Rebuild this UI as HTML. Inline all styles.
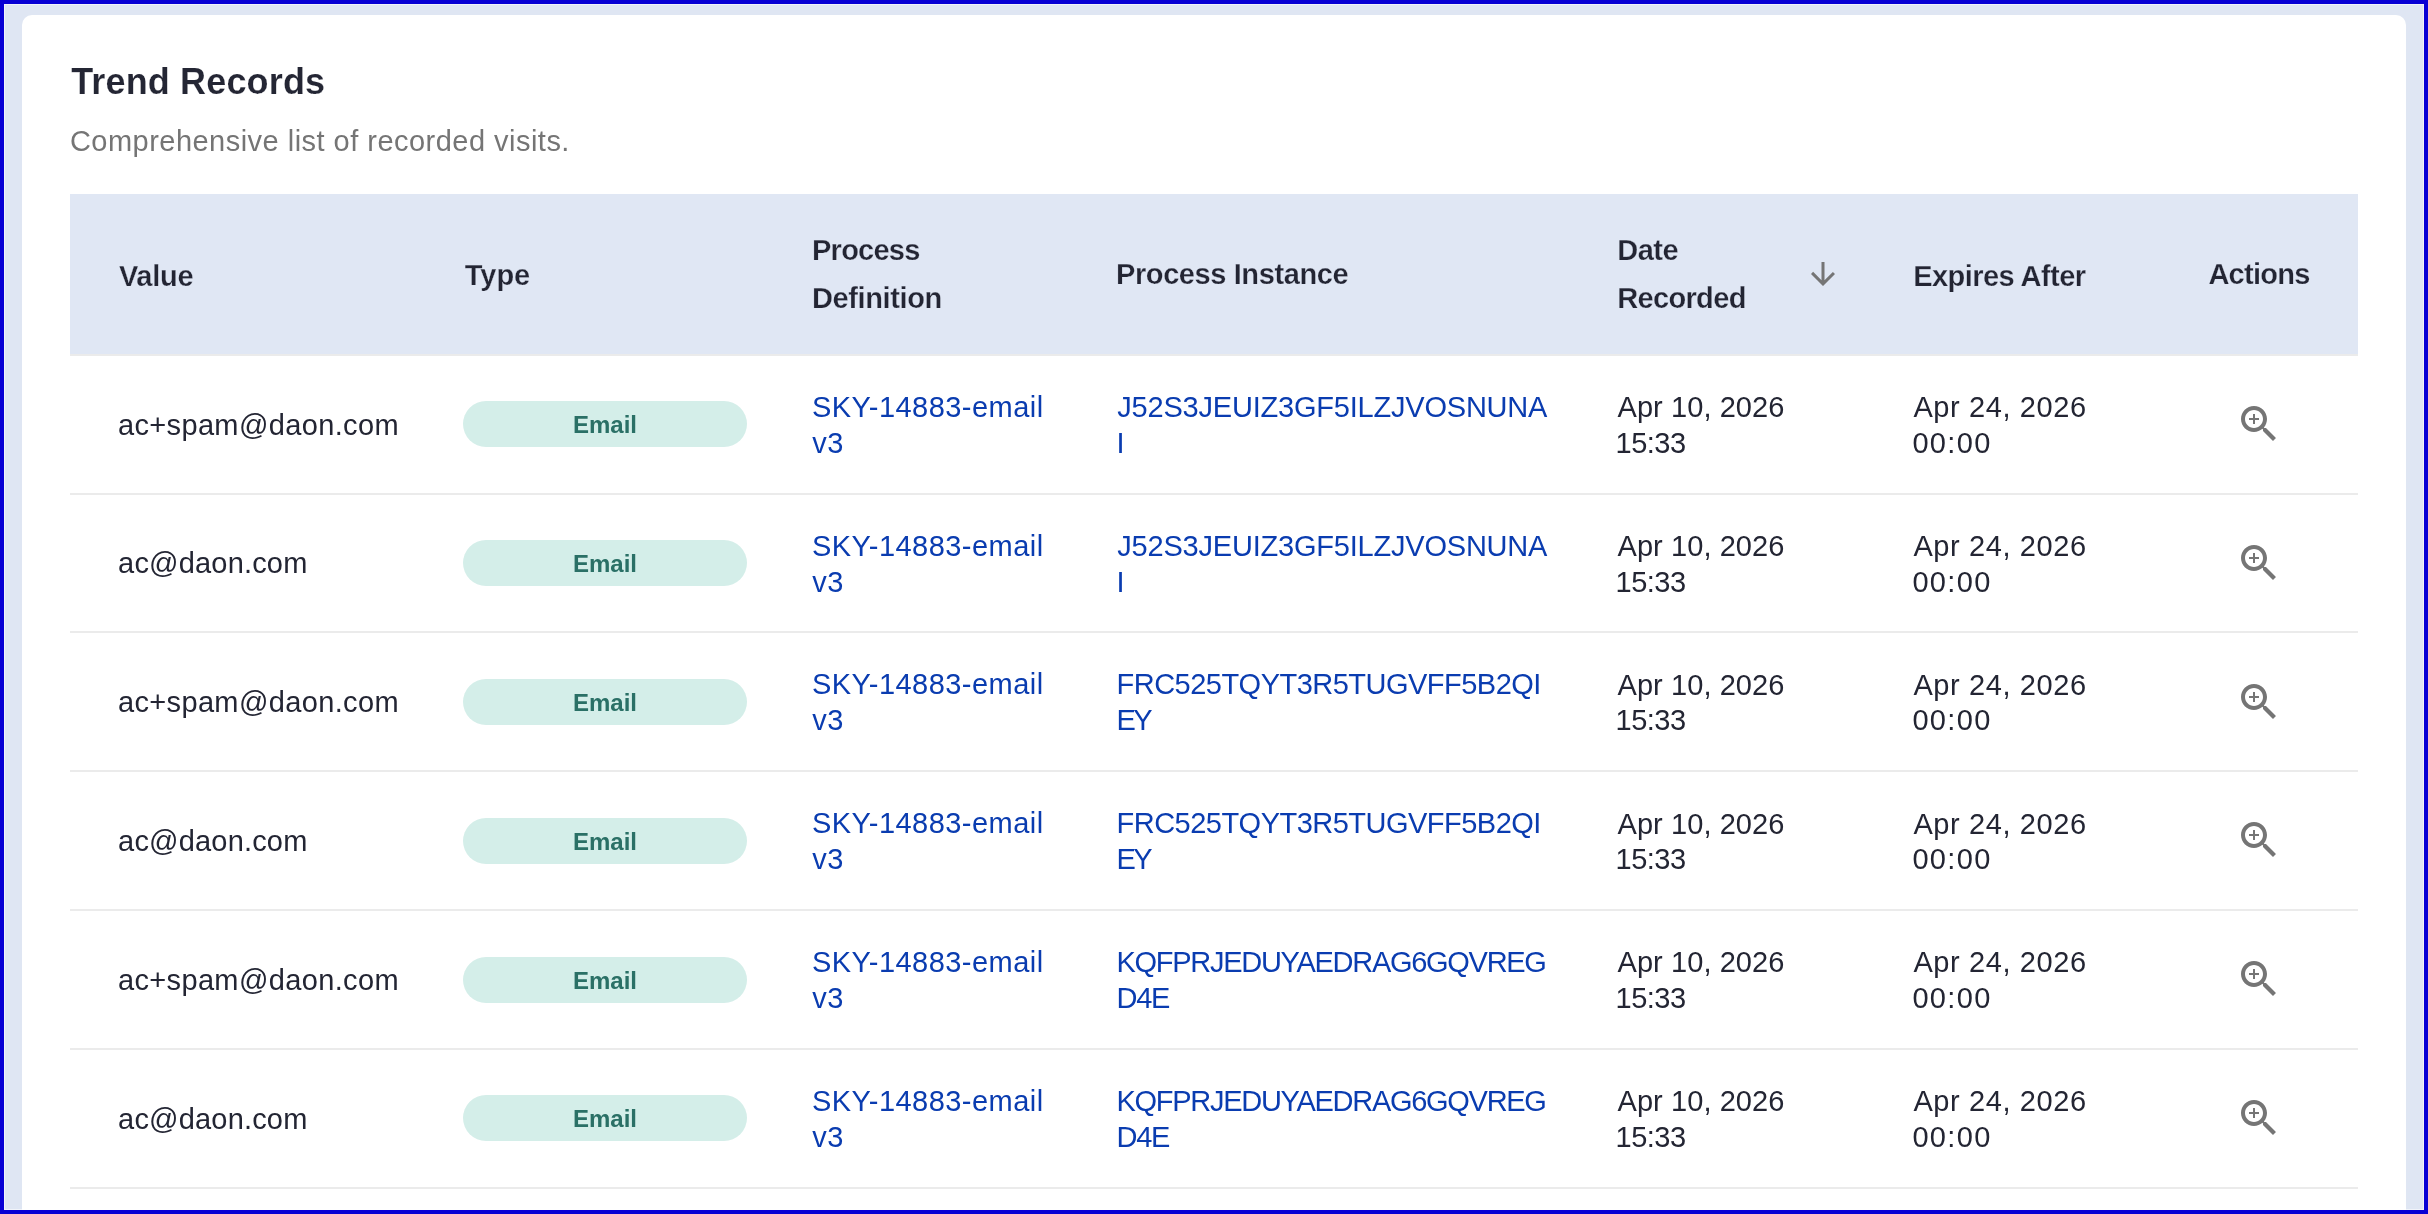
<!DOCTYPE html>
<html><head><meta charset="utf-8"><title>Trend Records</title>
<style>
html,body{margin:0;padding:0;}
body{width:2428px;height:1214px;overflow:hidden;position:relative;background:#0800d4;font-family:"Liberation Sans",sans-serif;}
.page{position:absolute;left:4px;top:4px;width:2420px;height:1206px;background:#dfe6f3;overflow:hidden;}
.card{position:absolute;left:18px;top:11px;width:2384px;height:1300px;background:#fff;border-radius:10px;}
.frame{position:absolute;left:0;top:0;width:2420px;height:1206px;border:4px solid #0800d4;pointer-events:none;}
.frame:after{content:"";position:absolute;left:0;top:0;right:0;bottom:0;border:1px solid rgba(255,255,255,0.55);}
.wrap{position:absolute;left:0;top:0;width:2428px;height:1214px;will-change:transform;}
.a{position:absolute;white-space:nowrap;font-size:29px;line-height:40px;color:#232533;}
.title{font-size:36px;line-height:50px;font-weight:700;color:#242634;-webkit-text-stroke:0.15px #fff;}
.sub{color:#757575;}
.th{position:absolute;left:70px;top:194px;width:2288px;height:160px;background:#e0e7f4;}
.hl{position:absolute;left:70px;width:2288px;height:2px;background:#ebebeb;}
.h{font-weight:700;-webkit-text-stroke:0.25px #e0e7f4;}
.l{color:#0a3cb0;}
.badge{position:absolute;left:463px;width:284px;height:46px;border-radius:23px;background:#d4eee9;color:#2a7066;font-size:24px;font-weight:700;text-align:center;line-height:46px;}
.badge span{position:relative;top:1.3px;}
.ic{position:absolute;width:48px;height:48px;}
.ar{position:absolute;width:36px;height:36px;}
.ic svg,.ar svg{display:block;}
</style></head><body>
<div class="page"><div class="card"></div></div>
<div class="wrap">
<div class="a title" style="left:71.2px;top:57px;letter-spacing:0.15px">Trend Records</div>
<div class="a sub" style="left:69.9px;top:121px;letter-spacing:0.476px">Comprehensive list of recorded visits.</div>
<div class="th"></div>
<div class="hl" style="top:354px"></div>
<div class="a h" style="left:118.9px;top:256px;letter-spacing:-0.275px">Value</div>
<div class="a h" style="left:464.7px;top:255px;letter-spacing:0.0px">Type</div>
<div class="a h" style="left:812.0px;top:230px;letter-spacing:-0.75px">Process</div>
<div class="a h" style="left:812.0px;top:278px;letter-spacing:-0.389px">Definition</div>
<div class="a h" style="left:1116.0px;top:254px;letter-spacing:-0.4px">Process Instance</div>
<div class="a h" style="left:1617.2px;top:230px;letter-spacing:-0.467px">Date</div>
<div class="a h" style="left:1617.2px;top:278px;letter-spacing:-0.657px">Recorded</div>
<div class="ar" style="left:1805px;top:256px"><svg width="36" height="36" viewBox="0 0 24 24"><path fill="#757575" d="M20 12l-1.41-1.41L13 16.17V4h-2v12.17l-5.58-5.59L4 12l8 8 8-8z"/></svg></div>
<div class="a h" style="left:1913.2px;top:256px;letter-spacing:-0.55px">Expires After</div>
<div class="a h" style="left:2208.4px;top:254px;letter-spacing:-0.733px">Actions</div>
<div class="hl" style="top:493px"></div>
<div class="a v" style="left:117.9px;top:405px;letter-spacing:0.36px">ac+spam@daon.com</div>
<div class="badge" style="top:401px"><span>Email</span></div>
<div class="a l" style="left:812.0px;top:387px;letter-spacing:0.464px">SKY-14883-email</div>
<div class="a l" style="left:812.2px;top:423px;letter-spacing:0.6px">v3</div>
<div class="a l" style="left:1117.3px;top:387px;letter-spacing:-0.208px">J52S3JEUIZ3GF5ILZJVOSNUNA</div>
<div class="a l" style="left:1116.5px;top:423px;letter-spacing:0.0px">I</div>
<div class="a d" style="left:1617.5px;top:387px;letter-spacing:0.073px">Apr 10, 2026</div>
<div class="a d" style="left:1615.5px;top:423px;letter-spacing:-0.5px">15:33</div>
<div class="a d" style="left:1913.4px;top:387px;letter-spacing:0.6px">Apr 24, 2026</div>
<div class="a d" style="left:1912.4px;top:423px;letter-spacing:1.35px">00:00</div>
<div class="ic" style="left:2235px;top:400px"><svg width="48" height="48" viewBox="0 0 24 24"><path fill="#757575" d="M15.5 14h-.79l-.28-.27C15.41 12.59 16 11.11 16 9.5 16 5.91 13.09 3 9.5 3S3 5.91 3 9.5 5.91 16 9.5 16c1.61 0 3.09-.59 4.23-1.57l.27.28v.79l5 4.99L20.49 19l-4.99-5zm-6 0C7.01 14 5 11.99 5 9.5S7.01 5 9.5 5 14 7.01 14 9.5 11.99 14 9.5 14zm2.5-4h-2v2H9v-2H7V9h2V7h1v2h2v1z"/></svg></div>
<div class="hl" style="top:631px"></div>
<div class="a v" style="left:118.1px;top:543px;letter-spacing:0.18px">ac@daon.com</div>
<div class="badge" style="top:540px"><span>Email</span></div>
<div class="a l" style="left:812.0px;top:526px;letter-spacing:0.464px">SKY-14883-email</div>
<div class="a l" style="left:812.2px;top:562px;letter-spacing:0.6px">v3</div>
<div class="a l" style="left:1117.3px;top:526px;letter-spacing:-0.208px">J52S3JEUIZ3GF5ILZJVOSNUNA</div>
<div class="a l" style="left:1116.5px;top:562px;letter-spacing:0.0px">I</div>
<div class="a d" style="left:1617.5px;top:526px;letter-spacing:0.073px">Apr 10, 2026</div>
<div class="a d" style="left:1615.5px;top:562px;letter-spacing:-0.5px">15:33</div>
<div class="a d" style="left:1913.4px;top:526px;letter-spacing:0.6px">Apr 24, 2026</div>
<div class="a d" style="left:1912.4px;top:562px;letter-spacing:1.35px">00:00</div>
<div class="ic" style="left:2235px;top:539px"><svg width="48" height="48" viewBox="0 0 24 24"><path fill="#757575" d="M15.5 14h-.79l-.28-.27C15.41 12.59 16 11.11 16 9.5 16 5.91 13.09 3 9.5 3S3 5.91 3 9.5 5.91 16 9.5 16c1.61 0 3.09-.59 4.23-1.57l.27.28v.79l5 4.99L20.49 19l-4.99-5zm-6 0C7.01 14 5 11.99 5 9.5S7.01 5 9.5 5 14 7.01 14 9.5 11.99 14 9.5 14zm2.5-4h-2v2H9v-2H7V9h2V7h1v2h2v1z"/></svg></div>
<div class="hl" style="top:770px"></div>
<div class="a v" style="left:117.9px;top:682px;letter-spacing:0.36px">ac+spam@daon.com</div>
<div class="badge" style="top:679px"><span>Email</span></div>
<div class="a l" style="left:812.0px;top:664px;letter-spacing:0.464px">SKY-14883-email</div>
<div class="a l" style="left:812.2px;top:700px;letter-spacing:0.6px">v3</div>
<div class="a l" style="left:1116.5px;top:664px;letter-spacing:-0.513px">FRC525TQYT3R5TUGVFF5B2QI</div>
<div class="a l" style="left:1116.5px;top:700px;letter-spacing:-2.5px">EY</div>
<div class="a d" style="left:1617.5px;top:665px;letter-spacing:0.073px">Apr 10, 2026</div>
<div class="a d" style="left:1615.5px;top:700px;letter-spacing:-0.5px">15:33</div>
<div class="a d" style="left:1913.4px;top:665px;letter-spacing:0.6px">Apr 24, 2026</div>
<div class="a d" style="left:1912.4px;top:700px;letter-spacing:1.35px">00:00</div>
<div class="ic" style="left:2235px;top:678px"><svg width="48" height="48" viewBox="0 0 24 24"><path fill="#757575" d="M15.5 14h-.79l-.28-.27C15.41 12.59 16 11.11 16 9.5 16 5.91 13.09 3 9.5 3S3 5.91 3 9.5 5.91 16 9.5 16c1.61 0 3.09-.59 4.23-1.57l.27.28v.79l5 4.99L20.49 19l-4.99-5zm-6 0C7.01 14 5 11.99 5 9.5S7.01 5 9.5 5 14 7.01 14 9.5 11.99 14 9.5 14zm2.5-4h-2v2H9v-2H7V9h2V7h1v2h2v1z"/></svg></div>
<div class="hl" style="top:909px"></div>
<div class="a v" style="left:118.1px;top:821px;letter-spacing:0.18px">ac@daon.com</div>
<div class="badge" style="top:818px"><span>Email</span></div>
<div class="a l" style="left:812.0px;top:803px;letter-spacing:0.464px">SKY-14883-email</div>
<div class="a l" style="left:812.2px;top:839px;letter-spacing:0.6px">v3</div>
<div class="a l" style="left:1116.5px;top:803px;letter-spacing:-0.513px">FRC525TQYT3R5TUGVFF5B2QI</div>
<div class="a l" style="left:1116.5px;top:839px;letter-spacing:-2.5px">EY</div>
<div class="a d" style="left:1617.5px;top:804px;letter-spacing:0.073px">Apr 10, 2026</div>
<div class="a d" style="left:1615.5px;top:839px;letter-spacing:-0.5px">15:33</div>
<div class="a d" style="left:1913.4px;top:804px;letter-spacing:0.6px">Apr 24, 2026</div>
<div class="a d" style="left:1912.4px;top:839px;letter-spacing:1.35px">00:00</div>
<div class="ic" style="left:2235px;top:816px"><svg width="48" height="48" viewBox="0 0 24 24"><path fill="#757575" d="M15.5 14h-.79l-.28-.27C15.41 12.59 16 11.11 16 9.5 16 5.91 13.09 3 9.5 3S3 5.91 3 9.5 5.91 16 9.5 16c1.61 0 3.09-.59 4.23-1.57l.27.28v.79l5 4.99L20.49 19l-4.99-5zm-6 0C7.01 14 5 11.99 5 9.5S7.01 5 9.5 5 14 7.01 14 9.5 11.99 14 9.5 14zm2.5-4h-2v2H9v-2H7V9h2V7h1v2h2v1z"/></svg></div>
<div class="hl" style="top:1048px"></div>
<div class="a v" style="left:117.9px;top:960px;letter-spacing:0.36px">ac+spam@daon.com</div>
<div class="badge" style="top:957px"><span>Email</span></div>
<div class="a l" style="left:812.0px;top:942px;letter-spacing:0.464px">SKY-14883-email</div>
<div class="a l" style="left:812.2px;top:978px;letter-spacing:0.6px">v3</div>
<div class="a l" style="left:1116.5px;top:942px;letter-spacing:-1.286px">KQFPRJEDUYAEDRAG6GQVREG</div>
<div class="a l" style="left:1116.5px;top:978px;letter-spacing:-1.25px">D4E</div>
<div class="a d" style="left:1617.5px;top:942px;letter-spacing:0.073px">Apr 10, 2026</div>
<div class="a d" style="left:1615.5px;top:978px;letter-spacing:-0.5px">15:33</div>
<div class="a d" style="left:1913.4px;top:942px;letter-spacing:0.6px">Apr 24, 2026</div>
<div class="a d" style="left:1912.4px;top:978px;letter-spacing:1.35px">00:00</div>
<div class="ic" style="left:2235px;top:955px"><svg width="48" height="48" viewBox="0 0 24 24"><path fill="#757575" d="M15.5 14h-.79l-.28-.27C15.41 12.59 16 11.11 16 9.5 16 5.91 13.09 3 9.5 3S3 5.91 3 9.5 5.91 16 9.5 16c1.61 0 3.09-.59 4.23-1.57l.27.28v.79l5 4.99L20.49 19l-4.99-5zm-6 0C7.01 14 5 11.99 5 9.5S7.01 5 9.5 5 14 7.01 14 9.5 11.99 14 9.5 14zm2.5-4h-2v2H9v-2H7V9h2V7h1v2h2v1z"/></svg></div>
<div class="hl" style="top:1187px"></div>
<div class="a v" style="left:118.1px;top:1099px;letter-spacing:0.18px">ac@daon.com</div>
<div class="badge" style="top:1095px"><span>Email</span></div>
<div class="a l" style="left:812.0px;top:1081px;letter-spacing:0.464px">SKY-14883-email</div>
<div class="a l" style="left:812.2px;top:1117px;letter-spacing:0.6px">v3</div>
<div class="a l" style="left:1116.5px;top:1081px;letter-spacing:-1.286px">KQFPRJEDUYAEDRAG6GQVREG</div>
<div class="a l" style="left:1116.5px;top:1117px;letter-spacing:-1.25px">D4E</div>
<div class="a d" style="left:1617.5px;top:1081px;letter-spacing:0.073px">Apr 10, 2026</div>
<div class="a d" style="left:1615.5px;top:1117px;letter-spacing:-0.5px">15:33</div>
<div class="a d" style="left:1913.4px;top:1081px;letter-spacing:0.6px">Apr 24, 2026</div>
<div class="a d" style="left:1912.4px;top:1117px;letter-spacing:1.35px">00:00</div>
<div class="ic" style="left:2235px;top:1094px"><svg width="48" height="48" viewBox="0 0 24 24"><path fill="#757575" d="M15.5 14h-.79l-.28-.27C15.41 12.59 16 11.11 16 9.5 16 5.91 13.09 3 9.5 3S3 5.91 3 9.5 5.91 16 9.5 16c1.61 0 3.09-.59 4.23-1.57l.27.28v.79l5 4.99L20.49 19l-4.99-5zm-6 0C7.01 14 5 11.99 5 9.5S7.01 5 9.5 5 14 7.01 14 9.5 11.99 14 9.5 14zm2.5-4h-2v2H9v-2H7V9h2V7h1v2h2v1z"/></svg></div>
</div>
<div class="frame"></div>
</body></html>
